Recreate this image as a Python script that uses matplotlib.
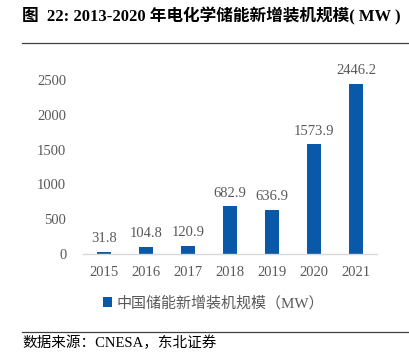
import matplotlib
matplotlib.use('agg')
import matplotlib.pyplot as plt
import numpy as np

years = ['2015', '2016', '2017', '2018', '2019', '2020', '2021']
capacity = [31.8, 104.8, 120.9, 682.9, 636.9, 1573.9, 2446.2]
yticks = [0, 500, 1000, 1500, 2000, 2500]

title = '图  22: 2013-2020 年电化学储能新增装机规模( MW )'
legend_label = '中国储能新增装机规模（MW）'
source = '数据来源：CNESA，东北证券'

fam = ['Liberation Serif', 'Noto Sans CJK SC']
gray = '#595959'
blue = '#0A58A8'

fig = plt.figure(figsize=(4.1, 3.64), dpi=100)
ax = fig.add_axes([0.2024, 0.3022, 0.7171, 0.478])

x = np.arange(len(years))
bars = ax.bar(x, capacity, 0.33, color=blue, zorder=2, label=legend_label)
for xi, v in zip(x, capacity):
    ax.annotate('%.1f' % v, (xi, v), xytext=(0, 5), textcoords='offset points',
                ha='center', va='bottom', fontsize=10.5, color=gray,
                family=fam, annotation_clip=False)

ax.set_xlim(-0.5, len(years) - 0.5)
ax.set_ylim(0, 2500)
ax.set_xticks(x)
ax.set_xticklabels(years, family=fam, fontsize=10.5, color=gray)
ax.set_yticks(yticks)
ax.set_yticklabels([str(t) for t in yticks], family=fam, fontsize=10.5, color=gray)
ax.tick_params(length=0)
ax.tick_params(axis='x', pad=9)
ax.tick_params(axis='y', pad=12)
for s in ['top', 'right', 'left']:
    ax.spines[s].set_visible(False)
ax.spines['bottom'].set_color('#D9D9D9')
ax.spines['bottom'].set_linewidth(1.0)

leg = fig.legend(handles=[bars], labels=[legend_label], loc='center',
                 bbox_to_anchor=(0.52, 1 - 303 / 364), frameon=False,
                 handlelength=0.6, handleheight=0.6, handletextpad=0.3,
                 prop={'family': fam, 'size': 10.8})
for t in leg.get_texts():
    t.set_color(gray)

fig.text(22 / 410, 1 - 16 / 364, title, ha='left', va='center',
         fontsize=12, fontweight='bold', family=fam, color='black')
fig.add_artist(plt.Line2D([22 / 410, 1], [1 - 43 / 364] * 2,
                          color='#404040', linewidth=0.9))
fig.add_artist(plt.Line2D([22 / 410, 1], [1 - 332 / 364] * 2,
                          color='#404040', linewidth=0.9))
fig.text(22 / 410, 1 - 343 / 364, source, ha='left', va='center',
         fontsize=10.5, family=fam, color='black')

fig.savefig('out.png', dpi=100)
